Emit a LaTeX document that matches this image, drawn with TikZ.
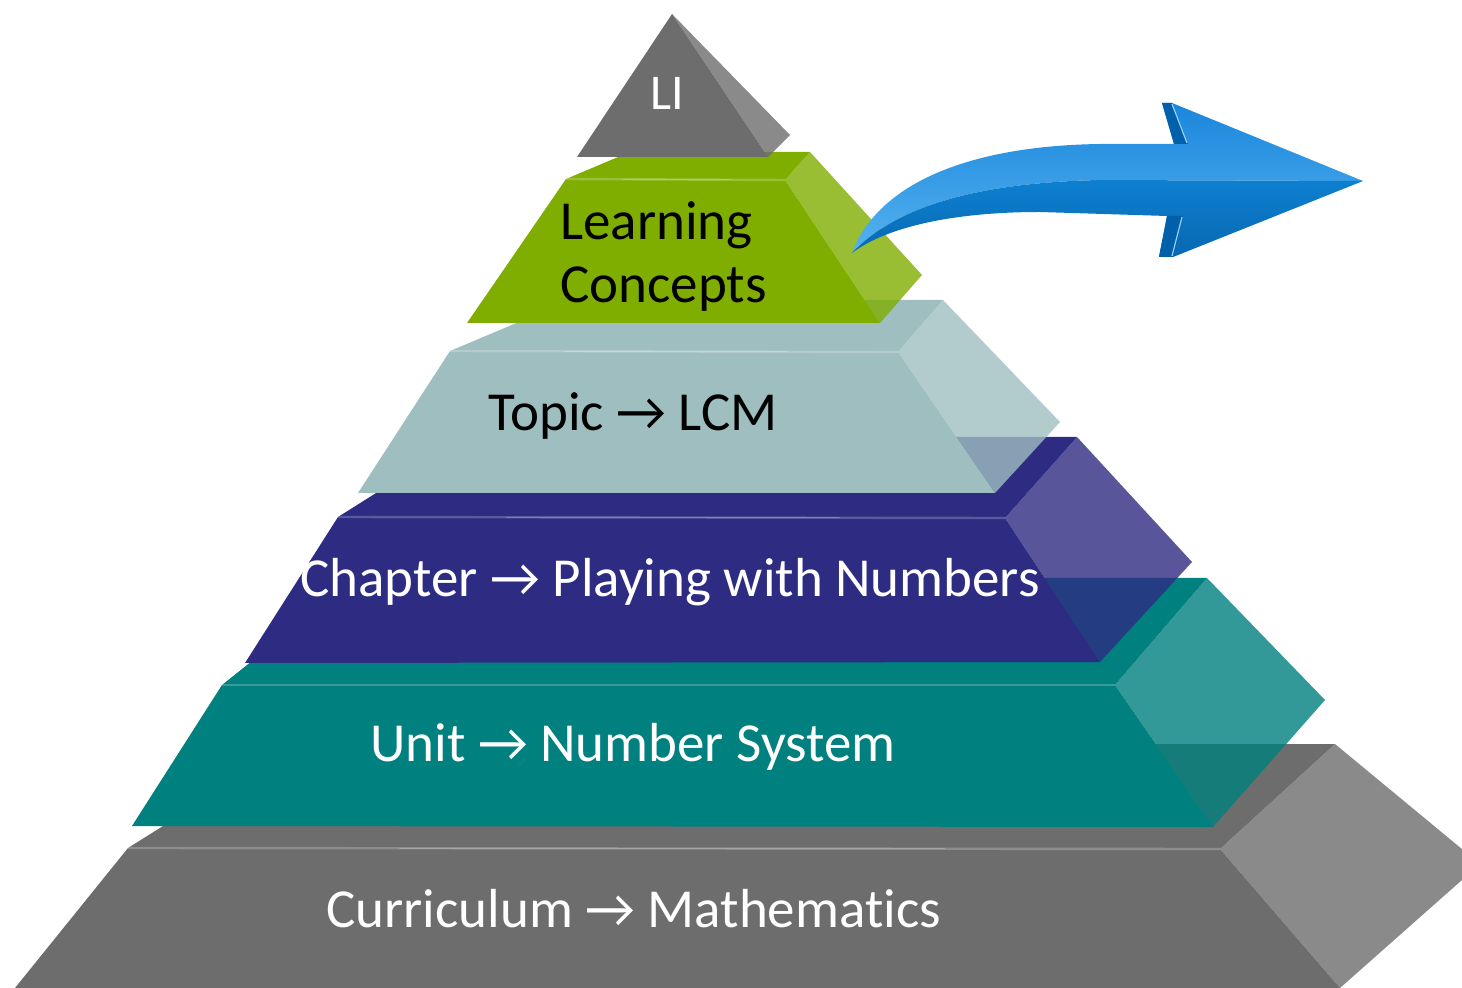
\documentclass[tikz,border=0pt]{standalone}
\usepackage{fontspec}
\setmainfont{Carlito}[Ligatures=CommonOff]
\definecolor{grayF}{HTML}{6D6D6D}
\definecolor{tealF}{HTML}{00807E}
\definecolor{indigoF}{HTML}{2E2B82}
\definecolor{topicF}{HTML}{9FBEC0}
\definecolor{greenF}{HTML}{80AE00}
\definecolor{arrTop}{HTML}{1A86DC}
\definecolor{arrMid}{HTML}{55B2EF}
\definecolor{arrLowTop}{HTML}{0D80D0}
\definecolor{arrLowBot}{HTML}{0868B2}
\definecolor{arrDark}{HTML}{0060AA}
\definecolor{arrHi}{HTML}{9AD0F5}
% color, BL, BR, FTL, FTR, R, FBR, FBL
\newcommand{\pyrlayer}[8]{%
  \fill[#1] #4 -- #2 -- #3 -- #5 -- cycle;
  \fill[#1] #4 -- #5 -- #7 -- #8 -- cycle;
  \fill[#1, fill opacity=0.8] #3 -- #6 -- #7 -- #5 -- cycle;
  \draw[white, opacity=0.22, line width=1.2pt] #4 -- #5;
}
\begin{document}
\begin{tikzpicture}[x=0.5pt,y=-0.5pt,
  lbl/.style={inner sep=0pt, anchor=base west, font=\fontsize{27.5}{32}\selectfont},
  wlbl/.style={lbl, text=white}]
\useasboundingbox (0,0) rectangle (1462,988);
\clip (0,0) rectangle (1462,988);
% Curriculum
\pyrlayer{grayF}{(294,744)}{(1335,744)}{(128,848)}{(1220,849)}{(1480,864)}{(1340,988)}{(15,988)}
% Unit
\pyrlayer{tealF}{(356,578)}{(1207,578)}{(222,685)}{(1115,685)}{(1325,700)}{(1213,827)}{(132,826)}
% Chapter
\pyrlayer{indigoF}{(465,437)}{(1077,437)}{(338,517)}{(1005,518)}{(1192,562)}{(1100,662)}{(245,663)}
% Topic
\pyrlayer{topicF}{(571,300)}{(943,300)}{(450,351)}{(898,352)}{(1060,422)}{(995,493)}{(358,493)}
% Learning concepts
\pyrlayer{greenF}{(630,152)}{(810,152)}{(566,179)}{(785,180)}{(922,275)}{(880,323)}{(467,323)}
% LI
\fill[grayF] (672,14) -- (577,157) -- (768,157) -- cycle;
\fill[grayF, fill opacity=0.8] (672,14) -- (790,135) -- (768,157) -- cycle;
% Arrow
\shade[top color=arrTop, bottom color=arrMid]
  (852,253) .. controls (876,188) and (960,146) .. (1100,144) -- (1174,144)
  -- (1162,103) -- (1172,103) -- (1363,181) -- (1100,180)
  .. controls (960,183) and (890,213) .. (852,253) -- cycle;
\shade[top color=arrLowTop, bottom color=arrLowBot]
  (852,253) .. controls (890,213) and (960,183) .. (1100,180) -- (1363,181)
  -- (1173,257) -- (1159,257) -- (1167,216) -- (1040,212)
  .. controls (950,212) and (885,228) .. (852,253) -- cycle;
\fill[arrDark] (1162,103) -- (1172,103) -- (1188,144) -- (1174,144) -- cycle;
\draw[arrHi, line width=0.6pt] (1172,104) -- (1187,143);
\fill[arrDark] (1167,216) -- (1183,216) -- (1173,257) -- (1159,257) -- cycle;
\draw[arrHi, line width=0.6pt] (1182,217) -- (1172,256);
% Labels
\node[wlbl, font=\fontsize{25}{30}\selectfont] (li) at (650,110) {LI};
\node[lbl] (lc1) at (560,240) {Learning};
\node[lbl] (lc2) at (560,303) {Concepts};
\node[lbl] (topic) at (488,431) {Topic → LCM};
\node[wlbl] (chap) at (300,597) {Chapter → Playing with Numbers};
\node[wlbl] (unit) at (370,762) {Unit → Number System};
\node[wlbl] (curr) at (326,927) {Curriculum → Mathematics};
\end{tikzpicture}
\end{document}
